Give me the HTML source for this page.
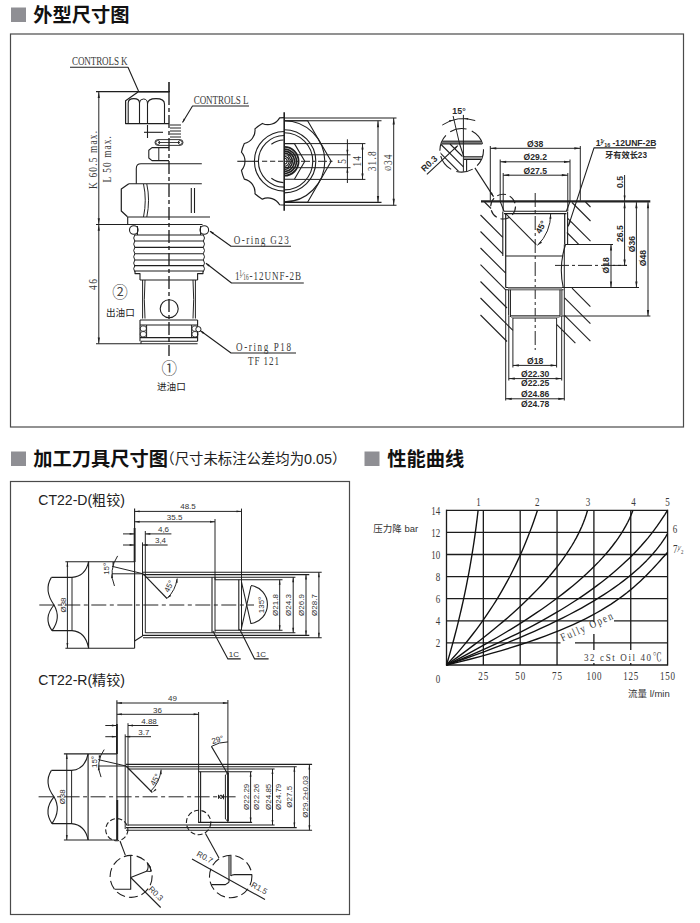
<!DOCTYPE html>
<html><head><meta charset="utf-8"><title>外型尺寸图</title>
<style>
html,body{margin:0;padding:0;background:#fff;}
body{width:700px;height:923px;overflow:hidden;position:relative;font-family:"Liberation Sans","Noto Sans CJK SC",sans-serif;}
svg{position:absolute;left:0;top:0;display:block}
</style></head><body>
<svg width="700" height="923" viewBox="0 0 700 923">
<rect x="10.5" y="34" width="673" height="393" fill="none" stroke="#4a4a4a" stroke-width="1.2"/>
<rect x="10.5" y="481.5" width="339" height="433" fill="none" stroke="#4a4a4a" stroke-width="1.2"/>
<rect x="11" y="7.5" width="15" height="14.5" fill="#8f8f94"/>
<rect x="11" y="451.5" width="15" height="14.5" fill="#8f8f94"/>
<rect x="364.5" y="451.5" width="15" height="14.5" fill="#8f8f94"/>
<text transform="translate(33.30,21.60)" text-anchor="start" style='font-family:"Liberation Sans", "Noto Sans CJK SC", sans-serif;font-size:19.25px;font-weight:bold;fill:#111'>外型尺寸图</text>
<text transform="translate(33.30,465.60)" text-anchor="start" style='font-family:"Liberation Sans", "Noto Sans CJK SC", sans-serif;font-size:19.25px;font-weight:bold;fill:#111'>加工刀具尺寸图</text>
<text transform="translate(387.30,465.60)" text-anchor="start" style='font-family:"Liberation Sans", "Noto Sans CJK SC", sans-serif;font-size:19.25px;font-weight:bold;fill:#111'>性能曲线</text>
<text transform="translate(160.30,464.20) scale(0.985,1)" text-anchor="start" style='font-family:"Liberation Sans", "Noto Sans CJK SC", sans-serif;font-size:14.6px;font-weight:normal;fill:#222'>（尺寸未标注公差均为0.05）</text>
<text transform="translate(38.30,505.00) scale(0.99,1)" text-anchor="start" style='font-family:"Liberation Sans", "Noto Sans CJK SC", sans-serif;font-size:14.2px;font-weight:normal;fill:#222'>CT22-D(粗铰)</text>
<text transform="translate(38.30,684.80) scale(0.99,1)" text-anchor="start" style='font-family:"Liberation Sans", "Noto Sans CJK SC", sans-serif;font-size:14.2px;font-weight:normal;fill:#222'>CT22-R(精铰)</text>
<line x1="169.00" y1="82.00" x2="169.00" y2="92.00" stroke="#1f1f1f" stroke-width="1.59"/>
<line x1="169.00" y1="92.00" x2="169.00" y2="356.00" stroke="#1f1f1f" stroke-width="1.34" stroke-dasharray="13 3 4 3"/>
<line x1="96.00" y1="91.60" x2="170.00" y2="91.60" stroke="#1f1f1f" stroke-width="1.10"/>
<line x1="98.80" y1="92.00" x2="98.80" y2="343.50" stroke="#1f1f1f" stroke-width="0.98"/>
<path d="M98.80,92.00 L99.90,98.00 L97.70,98.00 Z" fill="#1f1f1f"/>
<path d="M98.80,224.20 L97.70,218.20 L99.90,218.20 Z" fill="#1f1f1f"/>
<path d="M98.80,224.80 L99.90,230.80 L97.70,230.80 Z" fill="#1f1f1f"/>
<path d="M98.80,343.60 L97.70,337.60 L99.90,337.60 Z" fill="#1f1f1f"/>
<line x1="96.00" y1="224.50" x2="202.50" y2="224.50" stroke="#1f1f1f" stroke-width="1.10"/>
<line x1="96.00" y1="343.80" x2="141.00" y2="343.80" stroke="#1f1f1f" stroke-width="1.10"/>
<text transform="translate(96.70,160.00) rotate(-90) scale(0.72,1)" text-anchor="middle" textLength="80.56" lengthAdjust="spacing" style='font-family:"Liberation Serif", "Noto Serif CJK SC", serif;font-size:13.0px;font-weight:normal;fill:#3a3a3a'>K 60.5 max.</text>
<text transform="translate(111.00,159.30) rotate(-90) scale(0.72,1)" text-anchor="middle" textLength="64.58" lengthAdjust="spacing" style='font-family:"Liberation Serif", "Noto Serif CJK SC", serif;font-size:13.0px;font-weight:normal;fill:#3a3a3a'>L 50 max.</text>
<text transform="translate(96.80,284.50) rotate(-90) scale(0.72,1)" text-anchor="middle" textLength="15.28" lengthAdjust="spacing" style='font-family:"Liberation Serif", "Noto Serif CJK SC", serif;font-size:13.0px;font-weight:normal;fill:#3a3a3a'>46</text>
<text transform="translate(72.00,65.00) scale(0.72,1)" text-anchor="start" textLength="77.08" lengthAdjust="spacing" style='font-family:"Liberation Serif", "Noto Serif CJK SC", serif;font-size:12.6px;font-weight:normal;fill:#3a3a3a'>CONTROLS K</text>
<path d="M70.00,67.20 L128.00,67.20 L138.50,91.00" stroke="#1f1f1f" stroke-width="1.10" fill="none" stroke-linejoin="round"/>
<text transform="translate(193.70,103.60) scale(0.72,1)" text-anchor="start" textLength="76.11" lengthAdjust="spacing" style='font-family:"Liberation Serif", "Noto Serif CJK SC", serif;font-size:12.6px;font-weight:normal;fill:#3a3a3a'>CONTROLS L</text>
<path d="M249.00,106.00 L192.50,106.00 L182.50,122.50" stroke="#1f1f1f" stroke-width="1.10" fill="none" stroke-linejoin="round"/>
<path d="M182.50,122.50 L183.72,118.59 L185.28,119.49 Z" fill="#1f1f1f"/>
<path d="M169.00,92.00 L138.00,92.00 L125.60,100.80 L125.60,123.60 L169.00,123.60" stroke="#1f1f1f" stroke-width="1.22" fill="none" stroke-linejoin="round"/>
<path d="M128.2,123.6 V103 Q128.2,98.6 133.8,98.6 Q139.5,98.6 139.5,103 V123.6" stroke="#1f1f1f" stroke-width="1.10" fill="none" stroke-linejoin="round"/>
<path d="M147.5,123.6 V104 Q147.5,98.6 156,98.6 Q164.5,98.6 164.5,104 V123.6" stroke="#1f1f1f" stroke-width="1.10" fill="none" stroke-linejoin="round"/>
<path d="M139.5,103 Q139.5,99 143.5,99 Q147.5,99 147.5,104" stroke="#1f1f1f" stroke-width="0.98" fill="none" stroke-linejoin="round"/>
<line x1="170.00" y1="125.00" x2="181.00" y2="125.00" stroke="#1f1f1f" stroke-width="0.98"/>
<line x1="170.00" y1="128.00" x2="181.00" y2="128.00" stroke="#1f1f1f" stroke-width="0.98"/>
<line x1="170.00" y1="131.00" x2="181.00" y2="131.00" stroke="#1f1f1f" stroke-width="0.98"/>
<line x1="170.00" y1="134.00" x2="181.00" y2="134.00" stroke="#1f1f1f" stroke-width="0.98"/>
<line x1="170.00" y1="137.00" x2="181.00" y2="137.00" stroke="#1f1f1f" stroke-width="0.98"/>
<line x1="147.50" y1="125.00" x2="147.50" y2="138.00" stroke="#1f1f1f" stroke-width="1.10"/>
<line x1="144.00" y1="132.30" x2="163.00" y2="132.30" stroke="#1f1f1f" stroke-width="1.10"/>
<rect x="155" y="139.6" width="28" height="5.8" rx="2.9" fill="none" stroke="#1f1f1f" stroke-width="0.9"/>
<line x1="158.00" y1="142.50" x2="180.00" y2="142.50" stroke="#1f1f1f" stroke-width="0.85"/>
<circle cx="157.80" cy="142.50" r="2.00" stroke="#1f1f1f" stroke-width="0.85" fill="none"/>
<circle cx="180.20" cy="142.50" r="2.00" stroke="#1f1f1f" stroke-width="0.85" fill="none"/>
<path d="M169.00,147.60 L152.00,147.60 L148.80,150.20 L148.80,158.00 L152.00,160.60 L169.00,160.60" stroke="#1f1f1f" stroke-width="1.10" fill="none" stroke-linejoin="round"/>
<line x1="158.80" y1="148.00" x2="158.80" y2="160.40" stroke="#1f1f1f" stroke-width="0.98"/>
<path d="M201.8,163.8 H141 Q136.3,163.8 136.3,168.5 V183.8" stroke="#1f1f1f" stroke-width="1.10" fill="none" stroke-linejoin="round"/>
<line x1="128.80" y1="183.80" x2="201.80" y2="183.80" stroke="#1f1f1f" stroke-width="1.10"/>
<path d="M128.80,183.80 L121.30,189.00 L121.30,211.00 L127.50,216.80" stroke="#1f1f1f" stroke-width="1.22" fill="none" stroke-linejoin="round"/>
<path d="M143.5,184 Q147,200 143.5,217" stroke="#1f1f1f" stroke-width="0.98" fill="none" stroke-linejoin="round"/>
<path d="M146.8,184 Q150.3,200 146.8,217" stroke="#1f1f1f" stroke-width="0.98" fill="none" stroke-linejoin="round"/>
<line x1="191.30" y1="188.00" x2="191.30" y2="213.00" stroke="#1f1f1f" stroke-width="1.10"/>
<line x1="194.50" y1="188.00" x2="194.50" y2="213.00" stroke="#1f1f1f" stroke-width="1.10"/>
<line x1="127.50" y1="217.00" x2="210.00" y2="217.00" stroke="#1f1f1f" stroke-width="1.10"/>
<line x1="127.70" y1="217.00" x2="127.70" y2="224.50" stroke="#1f1f1f" stroke-width="1.10"/>
<circle cx="133.80" cy="230.00" r="4.30" stroke="#1f1f1f" stroke-width="1.10" fill="none"/>
<circle cx="204.30" cy="230.00" r="4.30" stroke="#1f1f1f" stroke-width="1.10" fill="none"/>
<line x1="134.50" y1="235.00" x2="203.60" y2="235.00" stroke="#1f1f1f" stroke-width="1.10"/>
<line x1="134.50" y1="241.00" x2="203.60" y2="241.00" stroke="#1f1f1f" stroke-width="1.10"/>
<line x1="134.50" y1="247.40" x2="203.60" y2="247.40" stroke="#1f1f1f" stroke-width="1.10"/>
<line x1="134.50" y1="253.70" x2="203.60" y2="253.70" stroke="#1f1f1f" stroke-width="1.10"/>
<line x1="134.50" y1="260.00" x2="203.60" y2="260.00" stroke="#1f1f1f" stroke-width="1.10"/>
<line x1="134.50" y1="265.60" x2="203.60" y2="265.60" stroke="#1f1f1f" stroke-width="1.10"/>
<line x1="134.50" y1="271.00" x2="203.60" y2="271.00" stroke="#1f1f1f" stroke-width="1.10"/>
<path d="M134.8,235 q-2.2,3.00 0,6.00" stroke="#1f1f1f" stroke-width="0.98" fill="none" stroke-linejoin="round"/>
<path d="M203.4,235 q2.2,3.00 0,6.00" stroke="#1f1f1f" stroke-width="0.98" fill="none" stroke-linejoin="round"/>
<path d="M134.8,241 q-2.2,3.10 0,6.20" stroke="#1f1f1f" stroke-width="0.98" fill="none" stroke-linejoin="round"/>
<path d="M203.4,241 q2.2,3.10 0,6.20" stroke="#1f1f1f" stroke-width="0.98" fill="none" stroke-linejoin="round"/>
<path d="M134.8,247.4 q-2.2,3.10 0,6.20" stroke="#1f1f1f" stroke-width="0.98" fill="none" stroke-linejoin="round"/>
<path d="M203.4,247.4 q2.2,3.10 0,6.20" stroke="#1f1f1f" stroke-width="0.98" fill="none" stroke-linejoin="round"/>
<path d="M134.8,253.7 q-2.2,3.10 0,6.20" stroke="#1f1f1f" stroke-width="0.98" fill="none" stroke-linejoin="round"/>
<path d="M203.4,253.7 q2.2,3.10 0,6.20" stroke="#1f1f1f" stroke-width="0.98" fill="none" stroke-linejoin="round"/>
<path d="M134.8,260 q-2.2,3.10 0,6.20" stroke="#1f1f1f" stroke-width="0.98" fill="none" stroke-linejoin="round"/>
<path d="M203.4,260 q2.2,3.10 0,6.20" stroke="#1f1f1f" stroke-width="0.98" fill="none" stroke-linejoin="round"/>
<path d="M134.8,265.6 q-2.2,3.10 0,6.20" stroke="#1f1f1f" stroke-width="0.98" fill="none" stroke-linejoin="round"/>
<path d="M203.4,265.6 q2.2,3.10 0,6.20" stroke="#1f1f1f" stroke-width="0.98" fill="none" stroke-linejoin="round"/>
<line x1="137.50" y1="226.00" x2="137.50" y2="235.00" stroke="#1f1f1f" stroke-width="0.98"/>
<line x1="200.50" y1="226.00" x2="200.50" y2="235.00" stroke="#1f1f1f" stroke-width="0.98"/>
<path d="M135.00,271.00 L135.00,273.60 L140.00,273.60 L140.00,280.00" stroke="#1f1f1f" stroke-width="1.10" fill="none" stroke-linejoin="round"/>
<path d="M203.00,271.00 L203.00,273.60 L197.60,273.60 L197.60,280.00" stroke="#1f1f1f" stroke-width="1.10" fill="none" stroke-linejoin="round"/>
<line x1="140.00" y1="280.00" x2="197.60" y2="280.00" stroke="#1f1f1f" stroke-width="1.10"/>
<path d="M142.6,280 V318.5" stroke="#1f1f1f" stroke-width="0.98" fill="none" stroke-linejoin="round"/>
<path d="M145,280 Q143.6,300 145,318.5" stroke="#1f1f1f" stroke-width="0.98" fill="none" stroke-linejoin="round"/>
<path d="M195.4,280 V318.5" stroke="#1f1f1f" stroke-width="0.98" fill="none" stroke-linejoin="round"/>
<path d="M193,280 Q194.4,300 193,318.5" stroke="#1f1f1f" stroke-width="0.98" fill="none" stroke-linejoin="round"/>
<circle cx="169.20" cy="308.70" r="9.00" stroke="#1f1f1f" stroke-width="1.10" fill="none"/>
<line x1="140.00" y1="320.00" x2="197.60" y2="320.00" stroke="#1f1f1f" stroke-width="1.22"/>
<line x1="140.00" y1="325.00" x2="197.60" y2="325.00" stroke="#1f1f1f" stroke-width="1.10"/>
<line x1="140.00" y1="320.00" x2="140.00" y2="341.20" stroke="#1f1f1f" stroke-width="1.10"/>
<line x1="197.60" y1="320.00" x2="197.60" y2="341.20" stroke="#1f1f1f" stroke-width="1.10"/>
<line x1="146.60" y1="325.00" x2="146.60" y2="337.50" stroke="#1f1f1f" stroke-width="0.98"/>
<line x1="191.60" y1="325.00" x2="191.60" y2="337.50" stroke="#1f1f1f" stroke-width="0.98"/>
<rect x="140.3" y="326" width="6" height="5.2" rx="2.3" fill="none" stroke="#1f1f1f" stroke-width="0.8"/>
<rect x="140.3" y="331.6" width="6" height="5.2" rx="2.3" fill="none" stroke="#1f1f1f" stroke-width="0.8"/>
<rect x="192" y="326" width="6" height="5.2" rx="2.3" fill="none" stroke="#1f1f1f" stroke-width="0.8"/>
<rect x="192" y="331.6" width="6" height="5.2" rx="2.3" fill="none" stroke="#1f1f1f" stroke-width="0.8"/>
<circle cx="198.40" cy="329.20" r="2.60" stroke="#1f1f1f" stroke-width="0.98" fill="#fff"/>
<line x1="140.00" y1="337.60" x2="197.60" y2="337.60" stroke="#1f1f1f" stroke-width="1.10"/>
<line x1="141.00" y1="341.20" x2="197.60" y2="341.20" stroke="#1f1f1f" stroke-width="1.10"/>
<line x1="141.00" y1="343.80" x2="197.60" y2="343.80" stroke="#1f1f1f" stroke-width="1.10"/>
<line x1="141.00" y1="341.20" x2="141.00" y2="343.80" stroke="#1f1f1f" stroke-width="1.10"/>
<path d="M210.00,231.20 L231.00,246.30 L291.00,246.30" stroke="#1f1f1f" stroke-width="1.10" fill="none" stroke-linejoin="round"/>
<path d="M209.50,230.80 L213.76,232.56 L212.61,234.20 Z" fill="#1f1f1f"/>
<text transform="translate(233.80,243.60) scale(0.72,1)" text-anchor="start" textLength="76.39" lengthAdjust="spacing" style='font-family:"Liberation Serif", "Noto Serif CJK SC", serif;font-size:12.6px;font-weight:normal;fill:#3a3a3a'>O-ring G23</text>
<path d="M206.00,263.30 L231.50,283.00 L303.80,283.00" stroke="#1f1f1f" stroke-width="1.10" fill="none" stroke-linejoin="round"/>
<path d="M205.50,263.00 L209.70,264.91 L208.49,266.51 Z" fill="#1f1f1f"/>
<text transform="translate(235.00,279.60) scale(0.72,1)" text-anchor="start" style='font-family:"Liberation Serif", "Noto Serif CJK SC", serif;font-size:12.6px;font-weight:normal;fill:#3a3a3a'>1</text>
<text transform="translate(239.30,276.00) scale(0.72,1)" text-anchor="start" style='font-family:"Liberation Serif", "Noto Serif CJK SC", serif;font-size:7.5px;font-weight:normal;fill:#3a3a3a'>1</text>
<text transform="translate(241.40,277.80)" text-anchor="start" style='font-family:"Liberation Serif", "Noto Serif CJK SC", serif;font-size:9px;font-weight:normal;fill:#3a3a3a'>⁄</text>
<text transform="translate(243.20,280.20) scale(0.72,1)" text-anchor="start" style='font-family:"Liberation Serif", "Noto Serif CJK SC", serif;font-size:7.5px;font-weight:normal;fill:#3a3a3a'>16</text>
<text transform="translate(249.50,279.60) scale(0.72,1)" text-anchor="start" textLength="71.53" lengthAdjust="spacing" style='font-family:"Liberation Serif", "Noto Serif CJK SC", serif;font-size:12.6px;font-weight:normal;fill:#3a3a3a'>-12UNF-2B</text>
<path d="M200.50,330.80 L231.00,353.00 L296.00,353.00" stroke="#1f1f1f" stroke-width="1.10" fill="none" stroke-linejoin="round"/>
<path d="M200.00,330.50 L204.23,332.34 L203.05,333.95 Z" fill="#1f1f1f"/>
<text transform="translate(236.00,350.80) scale(0.72,1)" text-anchor="start" textLength="76.39" lengthAdjust="spacing" style='font-family:"Liberation Serif", "Noto Serif CJK SC", serif;font-size:12.6px;font-weight:normal;fill:#3a3a3a'>O-ring P18</text>
<text transform="translate(248.00,365.00) scale(0.72,1)" text-anchor="start" textLength="43.06" lengthAdjust="spacing" style='font-family:"Liberation Serif", "Noto Serif CJK SC", serif;font-size:12.6px;font-weight:normal;fill:#3a3a3a'>TF 121</text>
<text transform="translate(120.00,298.30)" text-anchor="middle" style='font-family:"Liberation Sans", "Noto Sans CJK SC", sans-serif;font-size:15.5px;font-weight:normal;fill:#444'>②</text>
<text transform="translate(106.00,316.00)" text-anchor="start" style='font-family:"Liberation Sans", "Noto Sans CJK SC", sans-serif;font-size:9.6px;font-weight:normal;fill:#222'>出油口</text>
<text transform="translate(169.20,374.00)" text-anchor="middle" style='font-family:"Liberation Sans", "Noto Sans CJK SC", sans-serif;font-size:15.5px;font-weight:normal;fill:#444'>①</text>
<text transform="translate(157.00,390.20)" text-anchor="start" style='font-family:"Liberation Sans", "Noto Sans CJK SC", sans-serif;font-size:9.6px;font-weight:normal;fill:#222'>进油口</text>
<line x1="284.20" y1="112.30" x2="284.20" y2="210.70" stroke="#1f1f1f" stroke-width="1.59"/>
<line x1="237.30" y1="161.30" x2="258.50" y2="161.30" stroke="#1f1f1f" stroke-width="1.10"/>
<line x1="262.00" y1="161.30" x2="284.00" y2="161.30" stroke="#1f1f1f" stroke-width="1.10" stroke-dasharray="5.2 2.8"/>
<line x1="284.00" y1="161.30" x2="333.00" y2="161.30" stroke="#1f1f1f" stroke-width="0.98" stroke-dasharray="9 2.5 3 2.5"/>
<path d="M284.20,117.60 A43.7,43.7 0 0 0 279.63,117.84 A13.5,13.5 0 0 1 262.35,123.45 A43.7,43.7 0 0 0 254.96,128.82 A13.5,13.5 0 0 1 244.28,143.53 A43.7,43.7 0 0 0 241.45,152.21 A13.5,13.5 0 0 1 241.45,170.39 A43.7,43.7 0 0 0 244.28,179.07 A13.5,13.5 0 0 1 254.96,193.78 A43.7,43.7 0 0 0 262.35,199.15 A13.5,13.5 0 0 1 279.63,204.76 A43.7,43.7 0 0 0 284.20,205.00" stroke="#1f1f1f" stroke-width="1.16" fill="none" stroke-linejoin="round"/>
<path d="M284.20,191.10 A29.80,29.80 0 0 1 284.20,131.50" stroke="#1f1f1f" stroke-width="1.10" fill="none" stroke-linejoin="round"/>
<path d="M284.20,187.10 A25.80,25.80 0 0 1 284.20,135.50" stroke="#1f1f1f" stroke-width="1.10" fill="none" stroke-linejoin="round"/>
<path d="M271.38,144.29 A21.30,21.30 0 0 1 283.46,140.01" stroke="#1f1f1f" stroke-width="1.10" fill="none" stroke-linejoin="round"/>
<path d="M283.46,182.59 A21.30,21.30 0 0 1 271.38,178.31" stroke="#1f1f1f" stroke-width="1.10" fill="none" stroke-linejoin="round"/>
<line x1="284.20" y1="118.00" x2="396.50" y2="118.00" stroke="#1f1f1f" stroke-width="1.10"/>
<line x1="284.20" y1="205.30" x2="396.50" y2="205.30" stroke="#1f1f1f" stroke-width="1.10"/>
<line x1="284.20" y1="120.80" x2="381.50" y2="120.80" stroke="#1f1f1f" stroke-width="1.10"/>
<line x1="284.20" y1="202.40" x2="381.50" y2="202.40" stroke="#1f1f1f" stroke-width="1.10"/>
<path d="M284.20,120.80 L307.60,120.80 L331.20,161.30 L307.60,202.20 L284.20,202.20" stroke="#1f1f1f" stroke-width="1.10" fill="none" stroke-linejoin="round"/>
<path d="M284.20,120.70 A40.60,40.60 0 0 1 284.20,201.90" stroke="#1f1f1f" stroke-width="1.10" fill="none" stroke-linejoin="round"/>
<path d="M284.20,129.70 A31.60,31.60 0 0 1 284.20,192.90" stroke="#1f1f1f" stroke-width="1.10" fill="none" stroke-linejoin="round"/>
<path d="M284.20,132.70 A28.60,28.60 0 0 1 284.20,189.90" stroke="#1f1f1f" stroke-width="1.10" fill="none" stroke-linejoin="round"/>
<path d="M284.20,143.60 L294.40,143.60 L304.80,161.30 L294.40,179.20 L284.20,179.20" stroke="#1f1f1f" stroke-width="1.10" fill="none" stroke-linejoin="round"/>
<line x1="294.40" y1="143.60" x2="365.40" y2="143.60" stroke="#1f1f1f" stroke-width="0.98"/>
<line x1="294.40" y1="179.40" x2="365.40" y2="179.40" stroke="#1f1f1f" stroke-width="0.98"/>
<path d="M284.20,146.90 A14.40,14.40 0 0 1 284.20,175.70" stroke="#1f1f1f" stroke-width="1.83" fill="none" stroke-linejoin="round"/>
<path d="M284.20,149.10 A12.20,12.20 0 0 1 284.20,173.50" stroke="#1f1f1f" stroke-width="1.59" fill="none" stroke-linejoin="round"/>
<path d="M284.20,151.10 A10.20,10.20 0 0 1 284.20,171.50" stroke="#1f1f1f" stroke-width="1.59" fill="none" stroke-linejoin="round"/>
<path d="M284.20,153.10 A8.20,8.20 0 0 1 284.20,169.50" stroke="#1f1f1f" stroke-width="1.46" fill="none" stroke-linejoin="round"/>
<path d="M284.20,155.00 L287.80,155.00 L291.50,161.30 L287.80,167.60 L284.20,167.60" stroke="#1f1f1f" stroke-width="1.10" fill="none" stroke-linejoin="round"/>
<path d="M284.20,156.30 A5.00,5.00 0 0 1 284.20,166.30" stroke="#1f1f1f" stroke-width="1.22" fill="none" stroke-linejoin="round"/>
<path d="M284.20,158.30 A3.00,3.00 0 0 1 284.20,164.30" stroke="#1f1f1f" stroke-width="1.10" fill="none" stroke-linejoin="round"/>
<line x1="288.00" y1="154.80" x2="350.50" y2="154.80" stroke="#1f1f1f" stroke-width="0.98"/>
<line x1="288.00" y1="167.70" x2="350.50" y2="167.70" stroke="#1f1f1f" stroke-width="0.98"/>
<line x1="347.40" y1="139.30" x2="347.40" y2="183.00" stroke="#1f1f1f" stroke-width="0.98"/>
<path d="M347.40,154.80 L346.40,149.80 L348.40,149.80 Z" fill="#1f1f1f"/>
<path d="M347.40,167.70 L348.40,172.70 L346.40,172.70 Z" fill="#1f1f1f"/>
<line x1="362.50" y1="143.60" x2="362.50" y2="179.40" stroke="#1f1f1f" stroke-width="0.98"/>
<path d="M362.50,143.60 L363.60,149.60 L361.40,149.60 Z" fill="#1f1f1f"/>
<path d="M362.50,179.40 L361.40,173.40 L363.60,173.40 Z" fill="#1f1f1f"/>
<line x1="378.00" y1="120.80" x2="378.00" y2="202.40" stroke="#1f1f1f" stroke-width="0.98"/>
<path d="M378.00,120.80 L379.10,127.30 L376.90,127.30 Z" fill="#1f1f1f"/>
<path d="M378.00,202.40 L376.90,195.90 L379.10,195.90 Z" fill="#1f1f1f"/>
<line x1="393.70" y1="118.00" x2="393.70" y2="205.30" stroke="#1f1f1f" stroke-width="0.98"/>
<path d="M393.70,118.00 L394.80,124.50 L392.60,124.50 Z" fill="#1f1f1f"/>
<path d="M393.70,205.30 L392.60,198.80 L394.80,198.80 Z" fill="#1f1f1f"/>
<text transform="translate(346.00,161.30) rotate(-90) scale(0.72,1)" text-anchor="middle" style='font-family:"Liberation Serif", "Noto Serif CJK SC", serif;font-size:13px;font-weight:normal;fill:#3a3a3a'>5</text>
<text transform="translate(361.00,161.30) rotate(-90) scale(0.72,1)" text-anchor="middle" textLength="14.58" lengthAdjust="spacing" style='font-family:"Liberation Serif", "Noto Serif CJK SC", serif;font-size:13px;font-weight:normal;fill:#3a3a3a'>14</text>
<text transform="translate(376.30,161.30) rotate(-90) scale(0.72,1)" text-anchor="middle" textLength="27.78" lengthAdjust="spacing" style='font-family:"Liberation Serif", "Noto Serif CJK SC", serif;font-size:13px;font-weight:normal;fill:#3a3a3a'>31.8</text>
<text transform="translate(391.60,159.80) rotate(-90) scale(0.72,1)" text-anchor="middle" textLength="14.58" lengthAdjust="spacing" style='font-family:"Liberation Serif", "Noto Serif CJK SC", serif;font-size:13px;font-weight:normal;fill:#3a3a3a'>34</text>
<text transform="translate(391.00,168.30) rotate(-90) scale(0.9,1)" text-anchor="middle" style='font-family:"Liberation Serif", "Noto Serif CJK SC", serif;font-size:7.5px;font-weight:normal;fill:#3a3a3a'>Ø</text>
<line x1="481.00" y1="201.40" x2="650.30" y2="201.40" stroke="#222" stroke-width="2.07"/>
<line x1="535.20" y1="193.00" x2="535.20" y2="350.00" stroke="#1f1f1f" stroke-width="0.98" stroke-dasharray="14 3 3 3"/>
<line x1="490.30" y1="148.30" x2="580.30" y2="148.30" stroke="#1f1f1f" stroke-width="0.98"/>
<path d="M490.30,148.30 L496.30,147.20 L496.30,149.40 Z" fill="#1f1f1f"/>
<path d="M580.30,148.30 L574.30,149.40 L574.30,147.20 Z" fill="#1f1f1f"/>
<line x1="490.30" y1="146.00" x2="490.30" y2="200.60" stroke="#1f1f1f" stroke-width="0.98"/>
<line x1="580.30" y1="146.00" x2="580.30" y2="200.60" stroke="#1f1f1f" stroke-width="0.98"/>
<line x1="500.20" y1="161.80" x2="570.00" y2="161.80" stroke="#1f1f1f" stroke-width="0.98"/>
<path d="M500.20,161.80 L506.20,160.70 L506.20,162.90 Z" fill="#1f1f1f"/>
<path d="M570.00,161.80 L564.00,162.90 L564.00,160.70 Z" fill="#1f1f1f"/>
<line x1="500.20" y1="159.50" x2="500.20" y2="201.00" stroke="#1f1f1f" stroke-width="0.98"/>
<line x1="570.00" y1="159.50" x2="570.00" y2="201.00" stroke="#1f1f1f" stroke-width="0.98"/>
<line x1="503.20" y1="175.20" x2="567.80" y2="175.20" stroke="#1f1f1f" stroke-width="0.98"/>
<path d="M503.20,175.20 L509.20,174.10 L509.20,176.30 Z" fill="#1f1f1f"/>
<path d="M567.80,175.20 L561.80,176.30 L561.80,174.10 Z" fill="#1f1f1f"/>
<line x1="503.20" y1="173.00" x2="503.20" y2="211.00" stroke="#1f1f1f" stroke-width="0.98"/>
<line x1="567.80" y1="173.00" x2="567.80" y2="211.00" stroke="#1f1f1f" stroke-width="0.98"/>
<text transform="translate(535.20,146.60)" text-anchor="middle" style='font-family:"Liberation Sans", "Noto Sans CJK SC", sans-serif;font-size:8.6px;font-weight:bold;fill:#2a2a2a'>Ø38</text>
<text transform="translate(535.20,160.00)" text-anchor="middle" style='font-family:"Liberation Sans", "Noto Sans CJK SC", sans-serif;font-size:8.6px;font-weight:bold;fill:#2a2a2a'>Ø29.2</text>
<text transform="translate(535.20,173.50)" text-anchor="middle" style='font-family:"Liberation Sans", "Noto Sans CJK SC", sans-serif;font-size:8.6px;font-weight:bold;fill:#2a2a2a'>Ø27.5</text>
<path d="M500.20,201.40 L504.00,211.20 L566.40,211.20 L570.00,201.40" stroke="#1f1f1f" stroke-width="1.10" fill="none" stroke-linejoin="round"/>
<line x1="504.00" y1="213.60" x2="566.40" y2="213.60" stroke="#1f1f1f" stroke-width="1.10"/>
<line x1="502.80" y1="211.50" x2="502.80" y2="256.00" stroke="#1f1f1f" stroke-width="1.10"/>
<line x1="505.70" y1="213.60" x2="505.70" y2="287.50" stroke="#1f1f1f" stroke-width="1.22"/>
<line x1="567.60" y1="211.50" x2="567.60" y2="244.50" stroke="#1f1f1f" stroke-width="1.10"/>
<line x1="564.70" y1="213.60" x2="564.70" y2="244.50" stroke="#1f1f1f" stroke-width="1.22"/>
<line x1="505.70" y1="256.00" x2="563.20" y2="256.00" stroke="#1f1f1f" stroke-width="1.10"/>
<line x1="505.70" y1="213.60" x2="536.30" y2="244.60" stroke="#1f1f1f" stroke-width="1.10"/>
<path d="M550.70,213.60 A45.00,45.00 0 0 1 537.52,245.42" stroke="#1f1f1f" stroke-width="0.98" fill="none" stroke-linejoin="round"/>
<path d="M550.70,213.80 L551.44,218.85 L549.44,218.74 Z" fill="#1f1f1f"/>
<path d="M537.60,245.30 L540.65,241.21 L541.98,242.70 Z" fill="#1f1f1f"/>
<text transform="translate(543.50,228.50) rotate(-62)" text-anchor="middle" style='font-family:"Liberation Sans", "Noto Sans CJK SC", sans-serif;font-size:8.6px;font-weight:bold;fill:#2a2a2a'>45°</text>
<path d="M613,244.5 H565.5 Q558.5,266 563.2,287.5 H639" stroke="#1f1f1f" stroke-width="1.10" fill="none" stroke-linejoin="round"/>
<line x1="555.00" y1="265.40" x2="627.00" y2="265.40" stroke="#1f1f1f" stroke-width="0.98" stroke-dasharray="14 3 3 3"/>
<line x1="505.70" y1="287.50" x2="563.50" y2="287.50" stroke="#1f1f1f" stroke-width="1.22"/>
<line x1="505.70" y1="289.70" x2="563.50" y2="289.70" stroke="#1f1f1f" stroke-width="1.10"/>
<rect x="508" y="287.5" width="54" height="2.2" fill="#999"/>
<line x1="508.60" y1="289.70" x2="508.60" y2="315.70" stroke="#1f1f1f" stroke-width="0.98"/>
<line x1="510.40" y1="289.70" x2="510.40" y2="317.00" stroke="#1f1f1f" stroke-width="1.10"/>
<line x1="561.90" y1="289.70" x2="561.90" y2="315.70" stroke="#1f1f1f" stroke-width="0.98"/>
<line x1="560.00" y1="289.70" x2="560.00" y2="317.00" stroke="#1f1f1f" stroke-width="1.10"/>
<line x1="510.40" y1="315.80" x2="560.00" y2="315.80" stroke="#1f1f1f" stroke-width="1.22"/>
<line x1="512.90" y1="318.00" x2="556.60" y2="318.00" stroke="#1f1f1f" stroke-width="1.10"/>
<rect x="511" y="315.8" width="48.5" height="2.2" fill="#999"/>
<line x1="512.90" y1="318.00" x2="512.90" y2="367.50" stroke="#1f1f1f" stroke-width="0.98"/>
<line x1="556.60" y1="318.00" x2="556.60" y2="367.50" stroke="#1f1f1f" stroke-width="0.98"/>
<line x1="505.70" y1="289.00" x2="505.70" y2="400.50" stroke="#1f1f1f" stroke-width="0.98"/>
<line x1="564.30" y1="244.50" x2="564.30" y2="400.50" stroke="#1f1f1f" stroke-width="0.98"/>
<line x1="508.80" y1="316.00" x2="508.80" y2="380.50" stroke="#1f1f1f" stroke-width="0.98"/>
<line x1="561.70" y1="316.00" x2="561.70" y2="380.50" stroke="#1f1f1f" stroke-width="0.98"/>
<line x1="512.90" y1="365.40" x2="556.60" y2="365.40" stroke="#1f1f1f" stroke-width="0.98"/>
<path d="M512.90,365.40 L518.90,364.30 L518.90,366.50 Z" fill="#1f1f1f"/>
<path d="M556.60,365.40 L550.60,366.50 L550.60,364.30 Z" fill="#1f1f1f"/>
<text transform="translate(535.20,363.80)" text-anchor="middle" style='font-family:"Liberation Sans", "Noto Sans CJK SC", sans-serif;font-size:8.6px;font-weight:bold;fill:#2a2a2a'>Ø18</text>
<line x1="508.80" y1="378.60" x2="561.70" y2="378.60" stroke="#1f1f1f" stroke-width="0.98"/>
<path d="M508.80,378.60 L514.80,377.50 L514.80,379.70 Z" fill="#1f1f1f"/>
<path d="M561.70,378.60 L555.70,379.70 L555.70,377.50 Z" fill="#1f1f1f"/>
<text transform="translate(535.20,376.80)" text-anchor="middle" style='font-family:"Liberation Sans", "Noto Sans CJK SC", sans-serif;font-size:8.6px;font-weight:bold;fill:#2a2a2a'>Ø22.30</text>
<text transform="translate(535.20,386.40)" text-anchor="middle" style='font-family:"Liberation Sans", "Noto Sans CJK SC", sans-serif;font-size:8.6px;font-weight:bold;fill:#2a2a2a'>Ø22.25</text>
<line x1="505.70" y1="398.80" x2="564.30" y2="398.80" stroke="#1f1f1f" stroke-width="0.98"/>
<path d="M505.70,398.80 L511.70,397.70 L511.70,399.90 Z" fill="#1f1f1f"/>
<path d="M564.30,398.80 L558.30,399.90 L558.30,397.70 Z" fill="#1f1f1f"/>
<text transform="translate(535.20,397.00)" text-anchor="middle" style='font-family:"Liberation Sans", "Noto Sans CJK SC", sans-serif;font-size:8.6px;font-weight:bold;fill:#2a2a2a'>Ø24.86</text>
<text transform="translate(535.20,407.00)" text-anchor="middle" style='font-family:"Liberation Sans", "Noto Sans CJK SC", sans-serif;font-size:8.6px;font-weight:bold;fill:#2a2a2a'>Ø24.78</text>
<line x1="480.50" y1="215.00" x2="502.80" y2="237.30" stroke="#1f1f1f" stroke-width="1.10"/>
<line x1="480.50" y1="231.50" x2="502.80" y2="253.80" stroke="#1f1f1f" stroke-width="1.10"/>
<line x1="480.50" y1="248.00" x2="505.70" y2="273.20" stroke="#1f1f1f" stroke-width="1.10"/>
<line x1="480.50" y1="264.70" x2="505.70" y2="289.90" stroke="#1f1f1f" stroke-width="1.10"/>
<line x1="480.50" y1="281.50" x2="507.00" y2="308.00" stroke="#1f1f1f" stroke-width="1.10"/>
<line x1="480.50" y1="298.00" x2="512.90" y2="330.40" stroke="#1f1f1f" stroke-width="1.10"/>
<line x1="480.50" y1="315.00" x2="507.00" y2="341.50" stroke="#1f1f1f" stroke-width="1.10"/>
<line x1="484.50" y1="202.00" x2="491.00" y2="208.50" stroke="#1f1f1f" stroke-width="1.10"/>
<line x1="572.00" y1="202.50" x2="590.50" y2="221.00" stroke="#1f1f1f" stroke-width="1.10"/>
<line x1="585.50" y1="202.00" x2="590.50" y2="207.00" stroke="#1f1f1f" stroke-width="1.10"/>
<line x1="567.70" y1="218.30" x2="590.50" y2="241.10" stroke="#1f1f1f" stroke-width="1.10"/>
<line x1="566.90" y1="232.50" x2="579.00" y2="244.60" stroke="#1f1f1f" stroke-width="1.10"/>
<line x1="572.00" y1="288.20" x2="590.40" y2="306.60" stroke="#1f1f1f" stroke-width="1.10"/>
<line x1="564.60" y1="297.90" x2="590.40" y2="323.70" stroke="#1f1f1f" stroke-width="1.10"/>
<line x1="564.60" y1="315.40" x2="590.40" y2="341.20" stroke="#1f1f1f" stroke-width="1.10"/>
<line x1="556.80" y1="324.60" x2="575.40" y2="343.20" stroke="#1f1f1f" stroke-width="1.10"/>
<line x1="561.50" y1="316.00" x2="650.40" y2="316.00" stroke="#1f1f1f" stroke-width="0.98"/>
<line x1="624.60" y1="175.00" x2="624.60" y2="201.00" stroke="#1f1f1f" stroke-width="0.98"/>
<path d="M624.60,200.60 L623.60,195.60 L625.60,195.60 Z" fill="#1f1f1f"/>
<line x1="624.60" y1="202.20" x2="624.60" y2="265.40" stroke="#1f1f1f" stroke-width="0.98"/>
<path d="M624.60,202.20 L625.70,208.20 L623.50,208.20 Z" fill="#1f1f1f"/>
<path d="M624.60,265.40 L623.50,259.40 L625.70,259.40 Z" fill="#1f1f1f"/>
<line x1="613.00" y1="265.40" x2="627.00" y2="265.40" stroke="#1f1f1f" stroke-width="0.98"/>
<line x1="611.00" y1="244.50" x2="611.00" y2="287.50" stroke="#1f1f1f" stroke-width="0.98"/>
<path d="M611.00,244.50 L612.10,250.50 L609.90,250.50 Z" fill="#1f1f1f"/>
<path d="M611.00,287.50 L609.90,281.50 L612.10,281.50 Z" fill="#1f1f1f"/>
<line x1="636.40" y1="202.20" x2="636.40" y2="287.50" stroke="#1f1f1f" stroke-width="0.98"/>
<path d="M636.40,202.20 L637.50,208.20 L635.30,208.20 Z" fill="#1f1f1f"/>
<path d="M636.40,287.50 L635.30,281.50 L637.50,281.50 Z" fill="#1f1f1f"/>
<line x1="648.00" y1="202.20" x2="648.00" y2="316.00" stroke="#1f1f1f" stroke-width="0.98"/>
<path d="M648.00,202.20 L649.10,208.20 L646.90,208.20 Z" fill="#1f1f1f"/>
<path d="M648.00,316.00 L646.90,310.00 L649.10,310.00 Z" fill="#1f1f1f"/>
<text transform="translate(622.80,182.00) rotate(-90)" text-anchor="middle" style='font-family:"Liberation Sans", "Noto Sans CJK SC", sans-serif;font-size:8.6px;font-weight:bold;fill:#2a2a2a'>0.5</text>
<text transform="translate(622.80,233.70) rotate(-90)" text-anchor="middle" style='font-family:"Liberation Sans", "Noto Sans CJK SC", sans-serif;font-size:8.6px;font-weight:bold;fill:#2a2a2a'>26.5</text>
<text transform="translate(609.20,265.40) rotate(-90)" text-anchor="middle" style='font-family:"Liberation Sans", "Noto Sans CJK SC", sans-serif;font-size:8.6px;font-weight:bold;fill:#2a2a2a'>Ø18</text>
<text transform="translate(634.60,244.00) rotate(-90)" text-anchor="middle" style='font-family:"Liberation Sans", "Noto Sans CJK SC", sans-serif;font-size:8.6px;font-weight:bold;fill:#2a2a2a'>Ø36</text>
<text transform="translate(646.20,258.00) rotate(-90)" text-anchor="middle" style='font-family:"Liberation Sans", "Noto Sans CJK SC", sans-serif;font-size:8.6px;font-weight:bold;fill:#2a2a2a'>Ø48</text>
<path d="M655.70,147.90 L594.00,147.90 L568.30,226.30" stroke="#1f1f1f" stroke-width="1.10" fill="none" stroke-linejoin="round"/>
<path d="M568.30,226.30 L568.89,221.24 L570.80,221.85 Z" fill="#1f1f1f"/>
<text transform="translate(595.80,145.80)" text-anchor="start" style='font-family:"Liberation Sans", "Noto Sans CJK SC", sans-serif;font-size:8.6px;font-weight:bold;fill:#2a2a2a'>1</text>
<text transform="translate(600.20,143.00)" text-anchor="start" style='font-family:"Liberation Sans", "Noto Sans CJK SC", sans-serif;font-size:5.5px;font-weight:bold;fill:#2a2a2a'>1</text>
<text transform="translate(602.00,144.50)" text-anchor="start" style='font-family:"Liberation Sans", "Noto Sans CJK SC", sans-serif;font-size:7px;font-weight:bold;fill:#2a2a2a'>⁄</text>
<text transform="translate(604.20,146.50)" text-anchor="start" style='font-family:"Liberation Sans", "Noto Sans CJK SC", sans-serif;font-size:5.5px;font-weight:bold;fill:#2a2a2a'>16</text>
<text transform="translate(612.50,145.80)" text-anchor="start" style='font-family:"Liberation Sans", "Noto Sans CJK SC", sans-serif;font-size:8.6px;font-weight:bold;fill:#2a2a2a'>-12UNF-2B</text>
<text transform="translate(626.00,158.40)" text-anchor="middle" style='font-family:"Liberation Sans", "Noto Sans CJK SC", sans-serif;font-size:8.2px;font-weight:bold;fill:#2a2a2a'>牙有效长23</text>
<circle cx="503.10" cy="206.60" r="12.40" stroke="#1f1f1f" stroke-width="1.10" fill="none" stroke-dasharray="9 4"/>
<line x1="474.90" y1="167.90" x2="493.50" y2="196.60" stroke="#1f1f1f" stroke-width="1.10"/>
<path d="M493.80,197.00 L490.24,193.35 L491.92,192.26 Z" fill="#1f1f1f"/>
<circle cx="461.70" cy="150.30" r="21.80" stroke="#1f1f1f" stroke-width="1.10" fill="none" stroke-dasharray="17 5.5"/>
<clipPath id="cpA"><circle cx="461.7" cy="150.3" r="21.4"/></clipPath>
<g clip-path="url(#cpA)">
<rect x="438" y="141.1" width="46" height="2.9" fill="#777"/>
<line x1="438.00" y1="141.10" x2="484.00" y2="141.10" stroke="#1f1f1f" stroke-width="0.98"/>
<line x1="438.00" y1="144.00" x2="484.00" y2="144.00" stroke="#1f1f1f" stroke-width="0.98"/>
<rect x="464" y="156.8" width="20" height="2.6" fill="#bbb"/>
<line x1="464.00" y1="156.80" x2="484.00" y2="156.80" stroke="#1f1f1f" stroke-width="1.10"/>
<line x1="464.00" y1="159.40" x2="484.00" y2="159.40" stroke="#1f1f1f" stroke-width="1.10"/>
<line x1="466.60" y1="159.40" x2="466.60" y2="175.00" stroke="#1f1f1f" stroke-width="1.10"/>
<line x1="431.20" y1="144.00" x2="463.40" y2="176.20" stroke="#1f1f1f" stroke-width="1.10"/>
<line x1="440.60" y1="144.00" x2="463.40" y2="166.80" stroke="#1f1f1f" stroke-width="1.10"/>
<line x1="450.00" y1="144.00" x2="462.50" y2="156.50" stroke="#1f1f1f" stroke-width="1.10"/>
<line x1="459.60" y1="144.00" x2="464.00" y2="157.10" stroke="#1f1f1f" stroke-width="1.10"/>
</g>
<line x1="463.40" y1="114.90" x2="463.40" y2="171.50" stroke="#1f1f1f" stroke-width="0.98"/>
<line x1="453.10" y1="116.00" x2="459.60" y2="144.00" stroke="#1f1f1f" stroke-width="0.98"/>
<path d="M442.26,125.06 A38.30,38.30 0 0 1 475.24,120.57" stroke="#1f1f1f" stroke-width="0.98" fill="none" stroke-linejoin="round"/>
<path d="M453.60,120.00 L449.45,121.96 L449.02,120.22 Z" fill="#1f1f1f"/>
<path d="M463.60,118.80 L468.10,117.90 L468.10,119.70 Z" fill="#1f1f1f"/>
<text transform="translate(459.00,113.60)" text-anchor="middle" style='font-family:"Liberation Sans", "Noto Sans CJK SC", sans-serif;font-size:8.8px;font-weight:bold;fill:#2a2a2a'>15°</text>
<line x1="426.90" y1="174.30" x2="457.70" y2="145.70" stroke="#1f1f1f" stroke-width="1.10"/>
<path d="M457.90,145.50 L455.66,148.96 L454.29,147.50 Z" fill="#1f1f1f"/>
<text transform="translate(431.20,165.80) rotate(-43)" text-anchor="middle" style='font-family:"Liberation Sans", "Noto Sans CJK SC", sans-serif;font-size:8.8px;font-weight:bold;fill:#2a2a2a'>R0.3</text>
<line x1="39.30" y1="605.00" x2="254.00" y2="605.00" stroke="#1f1f1f" stroke-width="0.98" stroke-dasharray="15 3.5 4 3.5"/>
<path d="M51.4,577.4 Q43.5,590 54,605 Q43,618 52,630.6" stroke="#1f1f1f" stroke-width="1.10" fill="none" stroke-linejoin="round"/>
<path d="M54,605 Q61.5,618 52,630.6" stroke="#1f1f1f" stroke-width="1.10" fill="none" stroke-linejoin="round"/>
<path d="M51.4,577.4 H72 Q85.5,576.5 88.6,561.7" stroke="#1f1f1f" stroke-width="1.10" fill="none" stroke-linejoin="round"/>
<path d="M52,630.6 H72 Q85.5,631.5 88.6,648.1" stroke="#1f1f1f" stroke-width="1.10" fill="none" stroke-linejoin="round"/>
<line x1="65.40" y1="561.70" x2="134.60" y2="561.70" stroke="#1f1f1f" stroke-width="1.10"/>
<line x1="65.40" y1="648.30" x2="134.60" y2="648.30" stroke="#1f1f1f" stroke-width="1.10"/>
<line x1="88.60" y1="561.70" x2="88.60" y2="648.30" stroke="#1f1f1f" stroke-width="1.10"/>
<line x1="72.00" y1="577.40" x2="72.00" y2="630.60" stroke="#1f1f1f" stroke-width="0.98"/>
<line x1="67.40" y1="561.70" x2="67.40" y2="648.10" stroke="#1f1f1f" stroke-width="0.98"/>
<path d="M67.40,561.70 L68.30,566.70 L66.50,566.70 Z" fill="#1f1f1f"/>
<path d="M67.40,648.10 L66.50,643.10 L68.30,643.10 Z" fill="#1f1f1f"/>
<text transform="translate(65.60,605.00) rotate(-90)" text-anchor="middle" style='font-family:"Liberation Sans", "Noto Sans CJK SC", sans-serif;font-size:8.0px;font-weight:normal;fill:#333'>Ø38</text>
<line x1="134.60" y1="508.60" x2="134.60" y2="648.30" stroke="#1f1f1f" stroke-width="1.10"/>
<line x1="134.60" y1="528.00" x2="134.60" y2="562.00" stroke="#1f1f1f" stroke-width="1.83"/>
<line x1="134.60" y1="511.40" x2="241.50" y2="511.40" stroke="#1f1f1f" stroke-width="0.98"/>
<path d="M134.60,511.40 L139.60,510.45 L139.60,512.35 Z" fill="#1f1f1f"/>
<path d="M241.50,511.40 L236.50,512.35 L236.50,510.45 Z" fill="#1f1f1f"/>
<text transform="translate(188.00,509.30)" text-anchor="middle" style='font-family:"Liberation Sans", "Noto Sans CJK SC", sans-serif;font-size:8.0px;font-weight:normal;fill:#333'>48.5</text>
<line x1="134.60" y1="521.80" x2="215.00" y2="521.80" stroke="#1f1f1f" stroke-width="0.98"/>
<path d="M134.60,521.80 L139.60,520.85 L139.60,522.75 Z" fill="#1f1f1f"/>
<path d="M215.00,521.80 L210.00,522.75 L210.00,520.85 Z" fill="#1f1f1f"/>
<text transform="translate(174.60,519.80)" text-anchor="middle" style='font-family:"Liberation Sans", "Noto Sans CJK SC", sans-serif;font-size:8.0px;font-weight:normal;fill:#333'>35.5</text>
<line x1="241.50" y1="508.60" x2="241.50" y2="630.00" stroke="#1f1f1f" stroke-width="0.98"/>
<line x1="215.00" y1="519.00" x2="215.00" y2="632.00" stroke="#1f1f1f" stroke-width="0.98"/>
<line x1="123.00" y1="533.90" x2="134.60" y2="533.90" stroke="#1f1f1f" stroke-width="0.98"/>
<path d="M134.60,533.90 L129.60,534.80 L129.60,533.00 Z" fill="#1f1f1f"/>
<line x1="145.30" y1="533.90" x2="171.40" y2="533.90" stroke="#1f1f1f" stroke-width="0.98"/>
<path d="M145.30,533.90 L150.30,533.00 L150.30,534.80 Z" fill="#1f1f1f"/>
<text transform="translate(163.50,532.00)" text-anchor="middle" style='font-family:"Liberation Sans", "Noto Sans CJK SC", sans-serif;font-size:8.0px;font-weight:normal;fill:#333'>4,6</text>
<line x1="123.00" y1="545.00" x2="134.60" y2="545.00" stroke="#1f1f1f" stroke-width="0.98"/>
<path d="M134.60,545.00 L129.60,545.90 L129.60,544.10 Z" fill="#1f1f1f"/>
<line x1="142.50" y1="545.00" x2="167.60" y2="545.00" stroke="#1f1f1f" stroke-width="0.98"/>
<path d="M142.50,545.00 L147.50,544.10 L147.50,545.90 Z" fill="#1f1f1f"/>
<text transform="translate(160.50,543.20)" text-anchor="middle" style='font-family:"Liberation Sans", "Noto Sans CJK SC", sans-serif;font-size:8.0px;font-weight:normal;fill:#333'>3,4</text>
<line x1="145.30" y1="531.00" x2="145.30" y2="633.00" stroke="#1f1f1f" stroke-width="0.98"/>
<line x1="142.50" y1="542.40" x2="142.50" y2="636.00" stroke="#1f1f1f" stroke-width="0.98"/>
<line x1="112.00" y1="566.30" x2="143.20" y2="573.80" stroke="#1f1f1f" stroke-width="0.98"/>
<line x1="112.00" y1="573.80" x2="143.20" y2="573.80" stroke="#1f1f1f" stroke-width="0.98"/>
<path d="M114.48,585.99 A31.20,31.20 0 0 1 117.64,555.90" stroke="#1f1f1f" stroke-width="0.98" fill="none" stroke-linejoin="round"/>
<path d="M112.60,566.60 L112.50,562.01 L114.27,562.32 Z" fill="#1f1f1f"/>
<path d="M111.70,573.60 L112.83,578.05 L111.04,578.14 Z" fill="#1f1f1f"/>
<text transform="translate(108.50,568.80) rotate(-90)" text-anchor="middle" style='font-family:"Liberation Sans", "Noto Sans CJK SC", sans-serif;font-size:8.0px;font-weight:normal;fill:#333'>15°</text>
<line x1="143.00" y1="572.20" x2="321.70" y2="572.20" stroke="#1f1f1f" stroke-width="1.10"/>
<line x1="143.00" y1="574.60" x2="309.30" y2="574.60" stroke="#1f1f1f" stroke-width="1.10"/>
<line x1="145.30" y1="577.20" x2="295.40" y2="577.20" stroke="#1f1f1f" stroke-width="1.10"/>
<line x1="215.00" y1="579.70" x2="282.50" y2="579.70" stroke="#1f1f1f" stroke-width="1.10"/>
<line x1="143.00" y1="637.80" x2="321.70" y2="637.80" stroke="#1f1f1f" stroke-width="1.10"/>
<line x1="143.00" y1="635.40" x2="309.30" y2="635.40" stroke="#1f1f1f" stroke-width="1.10"/>
<line x1="145.30" y1="632.80" x2="295.40" y2="632.80" stroke="#1f1f1f" stroke-width="1.10"/>
<line x1="215.00" y1="630.30" x2="282.50" y2="630.30" stroke="#1f1f1f" stroke-width="1.10"/>
<path d="M134.60,641.00 L142.50,636.00" stroke="#1f1f1f" stroke-width="1.10" fill="none" stroke-linejoin="round"/>
<line x1="212.00" y1="577.20" x2="212.00" y2="632.80" stroke="#1f1f1f" stroke-width="1.10"/>
<line x1="238.80" y1="579.70" x2="238.80" y2="630.30" stroke="#1f1f1f" stroke-width="1.10"/>
<line x1="215.00" y1="577.20" x2="215.00" y2="579.70" stroke="#1f1f1f" stroke-width="1.10"/>
<line x1="143.20" y1="573.80" x2="167.00" y2="598.50" stroke="#1f1f1f" stroke-width="1.10"/>
<path d="M177.17,578.57 A34.30,34.30 0 0 1 167.03,598.47" stroke="#1f1f1f" stroke-width="0.98" fill="none" stroke-linejoin="round"/>
<path d="M177.20,578.20 L177.70,582.76 L175.91,582.60 Z" fill="#1f1f1f"/>
<path d="M167.20,598.30 L170.07,594.72 L171.23,596.10 Z" fill="#1f1f1f"/>
<text transform="translate(171.50,587.50) rotate(-64)" text-anchor="middle" style='font-family:"Liberation Sans", "Noto Sans CJK SC", sans-serif;font-size:8.0px;font-weight:normal;fill:#333'>45°</text>
<line x1="241.50" y1="582.00" x2="251.00" y2="624.00" stroke="#1f1f1f" stroke-width="1.10"/>
<line x1="251.00" y1="586.00" x2="241.50" y2="628.00" stroke="#1f1f1f" stroke-width="1.10"/>
<path d="M251,585.5 A19.2,19.2 0 0 1 251,623.5" stroke="#1f1f1f" stroke-width="1.10" fill="none" stroke-linejoin="round"/>
<text transform="translate(263.80,605.00) rotate(-90)" text-anchor="middle" style='font-family:"Liberation Sans", "Noto Sans CJK SC", sans-serif;font-size:8.0px;font-weight:normal;fill:#333'>135°</text>
<line x1="279.70" y1="579.70" x2="279.70" y2="630.30" stroke="#1f1f1f" stroke-width="0.98"/>
<path d="M279.70,579.70 L280.60,584.70 L278.80,584.70 Z" fill="#1f1f1f"/>
<path d="M279.70,630.30 L278.80,625.30 L280.60,625.30 Z" fill="#1f1f1f"/>
<line x1="293.20" y1="577.20" x2="293.20" y2="632.80" stroke="#1f1f1f" stroke-width="0.98"/>
<path d="M293.20,577.20 L294.10,582.20 L292.30,582.20 Z" fill="#1f1f1f"/>
<path d="M293.20,632.80 L292.30,627.80 L294.10,627.80 Z" fill="#1f1f1f"/>
<line x1="306.00" y1="574.60" x2="306.00" y2="635.40" stroke="#1f1f1f" stroke-width="0.98"/>
<path d="M306.00,574.60 L306.90,579.60 L305.10,579.60 Z" fill="#1f1f1f"/>
<path d="M306.00,635.40 L305.10,630.40 L306.90,630.40 Z" fill="#1f1f1f"/>
<line x1="318.90" y1="572.20" x2="318.90" y2="637.80" stroke="#1f1f1f" stroke-width="0.98"/>
<path d="M318.90,572.20 L319.80,577.20 L318.00,577.20 Z" fill="#1f1f1f"/>
<path d="M318.90,637.80 L318.00,632.80 L319.80,632.80 Z" fill="#1f1f1f"/>
<text transform="translate(278.00,605.00) rotate(-90)" text-anchor="middle" style='font-family:"Liberation Sans", "Noto Sans CJK SC", sans-serif;font-size:8.0px;font-weight:normal;fill:#333'>Ø21.8</text>
<text transform="translate(291.30,605.00) rotate(-90)" text-anchor="middle" style='font-family:"Liberation Sans", "Noto Sans CJK SC", sans-serif;font-size:8.0px;font-weight:normal;fill:#333'>Ø24.3</text>
<text transform="translate(304.10,605.00) rotate(-90)" text-anchor="middle" style='font-family:"Liberation Sans", "Noto Sans CJK SC", sans-serif;font-size:8.0px;font-weight:normal;fill:#333'>Ø26.9</text>
<text transform="translate(317.00,605.00) rotate(-90)" text-anchor="middle" style='font-family:"Liberation Sans", "Noto Sans CJK SC", sans-serif;font-size:8.0px;font-weight:normal;fill:#333'>Ø28.7</text>
<path d="M212.90,631.00 L227.90,658.90 L240.70,658.90" stroke="#1f1f1f" stroke-width="1.10" fill="none" stroke-linejoin="round"/>
<text transform="translate(233.80,657.30)" text-anchor="middle" style='font-family:"Liberation Sans", "Noto Sans CJK SC", sans-serif;font-size:8.0px;font-weight:normal;fill:#333'>1C</text>
<path d="M239.60,629.00 L254.60,658.90 L268.60,658.90" stroke="#1f1f1f" stroke-width="1.10" fill="none" stroke-linejoin="round"/>
<text transform="translate(261.00,657.30)" text-anchor="middle" style='font-family:"Liberation Sans", "Noto Sans CJK SC", sans-serif;font-size:8.0px;font-weight:normal;fill:#333'>1C</text>
<line x1="38.60" y1="796.80" x2="236.00" y2="796.80" stroke="#1f1f1f" stroke-width="0.98" stroke-dasharray="15 3.5 4 3.5"/>
<path d="M51.4,770.4 Q43.5,783 54,796.8 Q43,810 52,823.6" stroke="#1f1f1f" stroke-width="1.10" fill="none" stroke-linejoin="round"/>
<path d="M54,796.8 Q61.5,810 52,823.6" stroke="#1f1f1f" stroke-width="1.10" fill="none" stroke-linejoin="round"/>
<path d="M51.4,770.4 H71.4 Q85,769.5 88.1,753.9" stroke="#1f1f1f" stroke-width="1.10" fill="none" stroke-linejoin="round"/>
<path d="M52,823.6 H71.4 Q85,824.5 88.1,840" stroke="#1f1f1f" stroke-width="1.10" fill="none" stroke-linejoin="round"/>
<line x1="63.90" y1="753.90" x2="116.90" y2="753.90" stroke="#1f1f1f" stroke-width="1.10"/>
<line x1="63.90" y1="840.00" x2="117.50" y2="840.00" stroke="#1f1f1f" stroke-width="1.10"/>
<line x1="88.10" y1="753.90" x2="88.10" y2="840.00" stroke="#1f1f1f" stroke-width="1.10"/>
<line x1="71.60" y1="770.40" x2="71.60" y2="823.60" stroke="#1f1f1f" stroke-width="0.98"/>
<line x1="66.80" y1="753.90" x2="66.80" y2="840.00" stroke="#1f1f1f" stroke-width="0.98"/>
<path d="M66.80,753.90 L67.70,758.90 L65.90,758.90 Z" fill="#1f1f1f"/>
<path d="M66.80,840.00 L65.90,835.00 L67.70,835.00 Z" fill="#1f1f1f"/>
<text transform="translate(64.80,796.80) rotate(-90)" text-anchor="middle" style='font-family:"Liberation Sans", "Noto Sans CJK SC", sans-serif;font-size:8.0px;font-weight:normal;fill:#333'>Ø38</text>
<line x1="116.90" y1="700.30" x2="116.90" y2="840.00" stroke="#1f1f1f" stroke-width="1.10"/>
<line x1="116.90" y1="724.00" x2="116.90" y2="754.00" stroke="#1f1f1f" stroke-width="1.83"/>
<line x1="117.30" y1="800.00" x2="117.30" y2="840.00" stroke="#1f1f1f" stroke-width="1.83"/>
<line x1="116.90" y1="703.00" x2="227.90" y2="703.00" stroke="#1f1f1f" stroke-width="0.98"/>
<path d="M116.90,703.00 L121.90,702.05 L121.90,703.95 Z" fill="#1f1f1f"/>
<path d="M227.90,703.00 L222.90,703.95 L222.90,702.05 Z" fill="#1f1f1f"/>
<text transform="translate(172.40,701.30)" text-anchor="middle" style='font-family:"Liberation Sans", "Noto Sans CJK SC", sans-serif;font-size:8.0px;font-weight:normal;fill:#333'>49</text>
<line x1="116.90" y1="714.30" x2="198.60" y2="714.30" stroke="#1f1f1f" stroke-width="0.98"/>
<path d="M116.90,714.30 L121.90,713.35 L121.90,715.25 Z" fill="#1f1f1f"/>
<path d="M198.60,714.30 L193.60,715.25 L193.60,713.35 Z" fill="#1f1f1f"/>
<text transform="translate(157.40,712.50)" text-anchor="middle" style='font-family:"Liberation Sans", "Noto Sans CJK SC", sans-serif;font-size:8.0px;font-weight:normal;fill:#333'>36</text>
<line x1="227.90" y1="700.00" x2="227.90" y2="774.00" stroke="#1f1f1f" stroke-width="0.98"/>
<line x1="198.60" y1="712.00" x2="198.60" y2="823.00" stroke="#1f1f1f" stroke-width="0.98"/>
<line x1="105.30" y1="725.50" x2="116.90" y2="725.50" stroke="#1f1f1f" stroke-width="0.98"/>
<path d="M116.90,725.50 L111.90,726.40 L111.90,724.60 Z" fill="#1f1f1f"/>
<line x1="128.00" y1="725.50" x2="158.30" y2="725.50" stroke="#1f1f1f" stroke-width="0.98"/>
<path d="M128.00,725.50 L133.00,724.60 L133.00,726.40 Z" fill="#1f1f1f"/>
<text transform="translate(149.00,723.70)" text-anchor="middle" style='font-family:"Liberation Sans", "Noto Sans CJK SC", sans-serif;font-size:8.0px;font-weight:normal;fill:#333'>4.88</text>
<line x1="105.30" y1="736.70" x2="116.90" y2="736.70" stroke="#1f1f1f" stroke-width="0.98"/>
<path d="M116.90,736.70 L111.90,737.60 L111.90,735.80 Z" fill="#1f1f1f"/>
<line x1="125.20" y1="736.70" x2="151.00" y2="736.70" stroke="#1f1f1f" stroke-width="0.98"/>
<path d="M125.20,736.70 L130.20,735.80 L130.20,737.60 Z" fill="#1f1f1f"/>
<text transform="translate(143.90,734.80)" text-anchor="middle" style='font-family:"Liberation Sans", "Noto Sans CJK SC", sans-serif;font-size:8.0px;font-weight:normal;fill:#333'>3.7</text>
<line x1="128.00" y1="723.20" x2="128.00" y2="826.00" stroke="#1f1f1f" stroke-width="0.98"/>
<line x1="125.20" y1="734.40" x2="125.20" y2="829.00" stroke="#1f1f1f" stroke-width="0.98"/>
<line x1="98.20" y1="759.60" x2="126.00" y2="766.00" stroke="#1f1f1f" stroke-width="0.98"/>
<line x1="98.20" y1="766.00" x2="126.00" y2="766.00" stroke="#1f1f1f" stroke-width="0.98"/>
<path d="M101.06,777.10 A27.30,27.30 0 0 1 104.20,749.57" stroke="#1f1f1f" stroke-width="0.98" fill="none" stroke-linejoin="round"/>
<path d="M98.90,759.80 L98.80,755.21 L100.57,755.52 Z" fill="#1f1f1f"/>
<path d="M98.50,765.80 L99.63,770.25 L97.84,770.34 Z" fill="#1f1f1f"/>
<text transform="translate(96.50,762.00) rotate(-90)" text-anchor="middle" style='font-family:"Liberation Sans", "Noto Sans CJK SC", sans-serif;font-size:8.0px;font-weight:normal;fill:#333'>15°</text>
<line x1="126.00" y1="764.40" x2="312.10" y2="764.40" stroke="#1f1f1f" stroke-width="1.10"/>
<line x1="126.00" y1="766.80" x2="296.70" y2="766.80" stroke="#1f1f1f" stroke-width="1.10"/>
<line x1="128.00" y1="769.00" x2="274.60" y2="769.00" stroke="#1f1f1f" stroke-width="1.10"/>
<line x1="198.60" y1="771.80" x2="252.10" y2="771.80" stroke="#1f1f1f" stroke-width="1.10"/>
<line x1="126.00" y1="830.20" x2="312.10" y2="830.20" stroke="#1f1f1f" stroke-width="1.10"/>
<line x1="126.00" y1="827.60" x2="296.70" y2="827.60" stroke="#1f1f1f" stroke-width="1.10"/>
<line x1="128.00" y1="825.00" x2="274.60" y2="825.00" stroke="#1f1f1f" stroke-width="1.10"/>
<line x1="198.60" y1="822.40" x2="252.10" y2="822.40" stroke="#1f1f1f" stroke-width="1.10"/>
<line x1="200.60" y1="771.80" x2="200.60" y2="822.40" stroke="#1f1f1f" stroke-width="1.10"/>
<line x1="228.00" y1="772.50" x2="228.00" y2="821.50" stroke="#1f1f1f" stroke-width="1.83"/>
<path d="M225.40,775.00 L225.40,819.00" stroke="#1f1f1f" stroke-width="0.98" fill="none" stroke-linejoin="round"/>
<path d="M225.40,775.00 L228.00,772.50" stroke="#1f1f1f" stroke-width="0.98" fill="none" stroke-linejoin="round"/>
<path d="M225.40,819.00 L228.00,821.50" stroke="#1f1f1f" stroke-width="0.98" fill="none" stroke-linejoin="round"/>
<circle cx="221.00" cy="796.80" r="1.60" stroke="#1f1f1f" stroke-width="0.98" fill="none"/>
<line x1="218.50" y1="794.80" x2="218.50" y2="798.80" stroke="#1f1f1f" stroke-width="0.98"/>
<line x1="223.50" y1="794.30" x2="223.50" y2="799.30" stroke="#1f1f1f" stroke-width="0.98"/>
<line x1="126.00" y1="766.00" x2="152.30" y2="792.50" stroke="#1f1f1f" stroke-width="1.10"/>
<path d="M161.11,769.69 A35.30,35.30 0 0 1 150.52,791.39" stroke="#1f1f1f" stroke-width="0.98" fill="none" stroke-linejoin="round"/>
<path d="M161.20,769.80 L161.78,774.35 L159.99,774.23 Z" fill="#1f1f1f"/>
<path d="M152.50,792.30 L155.37,788.72 L156.53,790.10 Z" fill="#1f1f1f"/>
<text transform="translate(157.50,781.00) rotate(-60)" text-anchor="middle" style='font-family:"Liberation Sans", "Noto Sans CJK SC", sans-serif;font-size:8.0px;font-weight:normal;fill:#333'>45°</text>
<line x1="211.40" y1="746.40" x2="227.90" y2="774.30" stroke="#1f1f1f" stroke-width="1.10"/>
<path d="M211.46,746.38 A32.40,32.40 0 0 1 227.90,741.90" stroke="#1f1f1f" stroke-width="0.98" fill="none" stroke-linejoin="round"/>
<text transform="translate(218.30,742.30) rotate(-16)" text-anchor="middle" style='font-family:"Liberation Sans", "Noto Sans CJK SC", sans-serif;font-size:8.0px;font-weight:normal;fill:#333'>29°</text>
<line x1="250.60" y1="771.80" x2="250.60" y2="822.40" stroke="#1f1f1f" stroke-width="0.98"/>
<path d="M250.60,771.80 L251.50,776.80 L249.70,776.80 Z" fill="#1f1f1f"/>
<path d="M250.60,822.40 L249.70,817.40 L251.50,817.40 Z" fill="#1f1f1f"/>
<line x1="272.50" y1="769.00" x2="272.50" y2="825.00" stroke="#1f1f1f" stroke-width="0.98"/>
<path d="M272.50,769.00 L273.40,774.00 L271.60,774.00 Z" fill="#1f1f1f"/>
<path d="M272.50,825.00 L271.60,820.00 L273.40,820.00 Z" fill="#1f1f1f"/>
<line x1="294.40" y1="766.80" x2="294.40" y2="827.60" stroke="#1f1f1f" stroke-width="0.98"/>
<path d="M294.40,766.80 L295.30,771.80 L293.50,771.80 Z" fill="#1f1f1f"/>
<path d="M294.40,827.60 L293.50,822.60 L295.30,822.60 Z" fill="#1f1f1f"/>
<line x1="309.40" y1="764.40" x2="309.40" y2="830.20" stroke="#1f1f1f" stroke-width="0.98"/>
<path d="M309.40,764.40 L310.30,769.40 L308.50,769.40 Z" fill="#1f1f1f"/>
<path d="M309.40,830.20 L308.50,825.20 L310.30,825.20 Z" fill="#1f1f1f"/>
<text transform="translate(248.60,796.80) rotate(-90)" text-anchor="middle" style='font-family:"Liberation Sans", "Noto Sans CJK SC", sans-serif;font-size:8.0px;font-weight:normal;fill:#333'>Ø22.29</text>
<text transform="translate(258.60,796.80) rotate(-90)" text-anchor="middle" style='font-family:"Liberation Sans", "Noto Sans CJK SC", sans-serif;font-size:8.0px;font-weight:normal;fill:#333'>Ø22.26</text>
<text transform="translate(270.50,796.80) rotate(-90)" text-anchor="middle" style='font-family:"Liberation Sans", "Noto Sans CJK SC", sans-serif;font-size:8.0px;font-weight:normal;fill:#333'>Ø24.85</text>
<text transform="translate(280.50,796.80) rotate(-90)" text-anchor="middle" style='font-family:"Liberation Sans", "Noto Sans CJK SC", sans-serif;font-size:8.0px;font-weight:normal;fill:#333'>Ø24.79</text>
<text transform="translate(292.40,796.80) rotate(-90)" text-anchor="middle" style='font-family:"Liberation Sans", "Noto Sans CJK SC", sans-serif;font-size:8.0px;font-weight:normal;fill:#333'>Ø27.5</text>
<text transform="translate(307.50,796.80) rotate(-90)" text-anchor="middle" style='font-family:"Liberation Sans", "Noto Sans CJK SC", sans-serif;font-size:8.0px;font-weight:normal;fill:#333'>Ø29.2±0.03</text>
<circle cx="116.80" cy="829.70" r="11.10" stroke="#1f1f1f" stroke-width="1.10" fill="none" stroke-dasharray="5 2.5"/>
<circle cx="198.60" cy="822.50" r="12.20" stroke="#1f1f1f" stroke-width="1.10" fill="none" stroke-dasharray="5 2.5"/>
<line x1="120.00" y1="841.00" x2="125.40" y2="855.40" stroke="#1f1f1f" stroke-width="1.10"/>
<line x1="205.50" y1="833.50" x2="219.00" y2="857.90" stroke="#1f1f1f" stroke-width="1.10"/>
<circle cx="131.10" cy="876.40" r="21.00" stroke="#1f1f1f" stroke-width="1.10" fill="none" stroke-dasharray="9 4"/>
<path d="M130.70,855.40 L130.70,889.30 L114.60,889.30" stroke="#1f1f1f" stroke-width="1.10" fill="none" stroke-linejoin="round"/>
<path d="M130.7,877.5 L146.5,871.2 Q149.5,868 147.2,862.5" stroke="#1f1f1f" stroke-width="1.10" fill="none" stroke-linejoin="round"/>
<path d="M147.2,862.5 Q151.5,866 150.8,871.5 L146.5,871.2" stroke="#1f1f1f" stroke-width="0.98" fill="none" stroke-linejoin="round"/>
<line x1="130.70" y1="877.50" x2="160.70" y2="907.50" stroke="#1f1f1f" stroke-width="1.10"/>
<text transform="translate(154.00,895.50) rotate(45)" text-anchor="middle" style='font-family:"Liberation Sans", "Noto Sans CJK SC", sans-serif;font-size:8.0px;font-weight:normal;fill:#333'>R0.3</text>
<circle cx="230.70" cy="876.50" r="21.20" stroke="#1f1f1f" stroke-width="1.10" fill="none" stroke-dasharray="9 4"/>
<line x1="229.00" y1="855.50" x2="229.00" y2="882.30" stroke="#1f1f1f" stroke-width="1.10"/>
<line x1="230.90" y1="855.50" x2="230.90" y2="876.00" stroke="#1f1f1f" stroke-width="1.10"/>
<path d="M230.9,876 Q232,874.6 234.5,874.6 H252" stroke="#1f1f1f" stroke-width="1.10" fill="none" stroke-linejoin="round"/>
<path d="M211.40,884.60 L225.40,884.60 L229.00,882.30" stroke="#1f1f1f" stroke-width="1.10" fill="none" stroke-linejoin="round"/>
<line x1="192.00" y1="859.00" x2="265.00" y2="899.60" stroke="#1f1f1f" stroke-width="1.10"/>
<text transform="translate(203.50,859.50) rotate(29)" text-anchor="middle" style='font-family:"Liberation Sans", "Noto Sans CJK SC", sans-serif;font-size:8.0px;font-weight:normal;fill:#333'>R0.7</text>
<text transform="translate(258.00,890.50) rotate(29)" text-anchor="middle" style='font-family:"Liberation Sans", "Noto Sans CJK SC", sans-serif;font-size:8.0px;font-weight:normal;fill:#333'>R1.5</text>
<line x1="446.50" y1="509.70" x2="446.50" y2="665.60" stroke="#1c1c1c" stroke-width="1.32"/>
<line x1="483.35" y1="510.30" x2="483.35" y2="665.00" stroke="#1c1c1c" stroke-width="1.32"/>
<line x1="520.20" y1="510.30" x2="520.20" y2="665.00" stroke="#1c1c1c" stroke-width="1.32"/>
<line x1="557.05" y1="510.30" x2="557.05" y2="665.00" stroke="#1c1c1c" stroke-width="1.32"/>
<line x1="593.90" y1="510.30" x2="593.90" y2="622.00" stroke="#1c1c1c" stroke-width="1.32"/>
<line x1="593.90" y1="634.00" x2="593.90" y2="650.00" stroke="#1c1c1c" stroke-width="1.32"/>
<line x1="593.90" y1="663.00" x2="593.90" y2="665.00" stroke="#1c1c1c" stroke-width="1.32"/>
<line x1="630.75" y1="510.30" x2="630.75" y2="650.00" stroke="#1c1c1c" stroke-width="1.32"/>
<line x1="630.75" y1="663.00" x2="630.75" y2="665.00" stroke="#1c1c1c" stroke-width="1.32"/>
<line x1="667.60" y1="509.70" x2="667.60" y2="665.60" stroke="#1c1c1c" stroke-width="1.32"/>
<line x1="446.50" y1="665.00" x2="667.60" y2="665.00" stroke="#1c1c1c" stroke-width="1.32"/>
<line x1="446.50" y1="642.90" x2="560.50" y2="642.90" stroke="#1c1c1c" stroke-width="1.32"/>
<line x1="575.00" y1="642.90" x2="667.60" y2="642.90" stroke="#1c1c1c" stroke-width="1.32"/>
<line x1="446.50" y1="620.80" x2="594.00" y2="620.80" stroke="#1c1c1c" stroke-width="1.32"/>
<line x1="614.00" y1="620.80" x2="667.60" y2="620.80" stroke="#1c1c1c" stroke-width="1.32"/>
<line x1="446.50" y1="598.70" x2="667.60" y2="598.70" stroke="#1c1c1c" stroke-width="1.32"/>
<line x1="446.50" y1="576.60" x2="667.60" y2="576.60" stroke="#1c1c1c" stroke-width="1.32"/>
<line x1="446.50" y1="554.50" x2="667.60" y2="554.50" stroke="#1c1c1c" stroke-width="1.32"/>
<line x1="446.50" y1="532.40" x2="667.60" y2="532.40" stroke="#1c1c1c" stroke-width="1.32"/>
<line x1="446.50" y1="510.30" x2="667.60" y2="510.30" stroke="#1c1c1c" stroke-width="1.32"/>
<path d="M446.50,665.00 L447.69,661.03 L448.85,657.07 L450.00,653.10 L451.12,649.13 L452.23,645.17 L453.31,641.20 L454.37,637.23 L455.41,633.27 L456.44,629.30 L457.44,625.33 L458.42,621.37 L459.38,617.40 L460.32,613.43 L461.25,609.47 L462.15,605.50 L463.03,601.53 L463.89,597.57 L464.74,593.60 L465.56,589.63 L466.37,585.67 L467.15,581.70 L467.92,577.73 L468.67,573.77 L469.39,569.80 L470.10,565.83 L470.79,561.87 L471.47,557.90 L472.12,553.93 L472.75,549.97 L473.37,546.00 L473.97,542.03 L474.55,538.07 L475.11,534.10 L475.65,530.13 L476.18,526.17 L476.68,522.20 L477.17,518.23 L477.64,514.27 L478.10,510.30" stroke="#111" stroke-width="1.37" fill="none" stroke-linejoin="round"/>
<path d="M446.50,665.00 L450.17,661.03 L453.75,657.07 L457.24,653.10 L460.65,649.13 L463.98,645.17 L467.22,641.20 L470.39,637.23 L473.48,633.27 L476.48,629.30 L479.42,625.33 L482.28,621.37 L485.06,617.40 L487.77,613.43 L490.41,609.47 L492.99,605.50 L495.49,601.53 L497.93,597.57 L500.30,593.60 L502.61,589.63 L504.86,585.67 L507.05,581.70 L509.17,577.73 L511.24,573.77 L513.25,569.80 L515.20,565.83 L517.10,561.87 L518.95,557.90 L520.75,553.93 L522.49,549.97 L524.19,546.00 L525.84,542.03 L527.44,538.07 L529.00,534.10 L530.52,530.13 L531.99,526.17 L533.42,522.20 L534.81,518.23 L536.17,514.27 L537.49,510.30" stroke="#111" stroke-width="1.37" fill="none" stroke-linejoin="round"/>
<path d="M446.50,665.00 L452.11,661.03 L457.63,657.07 L463.07,653.10 L468.43,649.13 L473.70,645.17 L478.88,641.20 L483.97,637.23 L488.97,633.27 L493.87,629.30 L498.67,625.33 L503.38,621.37 L507.99,617.40 L512.49,613.43 L516.89,609.47 L521.18,605.50 L525.37,601.53 L529.45,597.57 L533.41,593.60 L537.26,589.63 L541.00,585.67 L544.62,581.70 L548.11,577.73 L551.49,573.77 L554.75,569.80 L557.88,565.83 L560.88,561.87 L563.76,557.90 L566.51,553.93 L569.12,549.97 L571.60,546.00 L573.94,542.03 L576.15,538.07 L578.21,534.10 L580.13,530.13 L581.92,526.17 L583.55,522.20 L585.04,518.23 L586.38,514.27 L587.56,510.30" stroke="#111" stroke-width="1.37" fill="none" stroke-linejoin="round"/>
<path d="M446.50,665.00 L454.21,661.03 L461.78,657.07 L469.21,653.10 L476.50,649.13 L483.65,645.17 L490.65,641.20 L497.51,637.23 L504.23,633.27 L510.79,629.30 L517.21,625.33 L523.48,621.37 L529.60,617.40 L535.57,613.43 L541.38,609.47 L547.03,605.50 L552.53,601.53 L557.88,597.57 L563.06,593.60 L568.09,589.63 L572.95,585.67 L577.65,581.70 L582.18,577.73 L586.56,573.77 L590.76,569.80 L594.80,565.83 L598.66,561.87 L602.36,557.90 L605.88,553.93 L609.24,549.97 L612.41,546.00 L615.42,542.03 L618.24,538.07 L620.89,534.10 L623.36,530.13 L625.64,526.17 L627.75,522.20 L629.67,518.23 L631.41,514.27 L632.96,510.30" stroke="#111" stroke-width="1.37" fill="none" stroke-linejoin="round"/>
<path d="M446.50,665.00 L456.37,661.03 L465.97,657.07 L475.30,653.10 L484.36,649.13 L493.17,645.17 L501.72,641.20 L510.02,637.23 L518.08,633.27 L525.89,629.30 L533.46,625.33 L540.80,621.37 L547.91,617.40 L554.79,613.43 L561.45,609.47 L567.89,605.50 L574.11,601.53 L580.13,597.57 L585.93,593.60 L591.54,589.63 L596.95,585.67 L602.16,581.70 L607.19,577.73 L612.02,573.77 L616.68,569.80 L621.16,565.83 L625.46,561.87 L629.59,557.90 L633.56,553.93 L637.37,549.97 L641.02,546.00 L644.51,542.03 L647.86,538.07 L651.06,534.10 L654.12,530.13 L657.04,526.17 L659.83,522.20 L662.49,518.23 L665.03,514.27 L667.44,510.30" stroke="#111" stroke-width="1.37" fill="none" stroke-linejoin="round"/>
<path d="M446.50,665.00 L456.41,661.63 L466.06,658.27 L475.45,654.90 L484.60,651.54 L493.50,648.17 L502.15,644.80 L510.56,641.44 L518.73,638.07 L526.66,634.71 L534.36,631.34 L541.82,627.97 L549.06,624.61 L556.07,621.24 L562.85,617.88 L569.42,614.51 L575.76,611.14 L581.89,607.78 L587.81,604.41 L593.51,601.05 L599.01,597.68 L604.30,594.31 L609.39,590.95 L614.28,587.58 L618.98,584.22 L623.47,580.85 L627.78,577.48 L631.90,574.12 L635.83,570.75 L639.58,567.39 L643.15,564.02 L646.54,560.65 L649.75,557.29 L652.79,553.92 L655.66,550.56 L658.36,547.19 L660.90,543.82 L663.28,540.46 L665.50,537.09 L667.56,533.73" stroke="#111" stroke-width="1.37" fill="none" stroke-linejoin="round"/>
<path d="M446.50,665.00 L458.43,662.11 L469.86,659.22 L480.81,656.33 L491.29,653.44 L501.32,650.55 L510.90,647.66 L520.05,644.77 L528.79,641.88 L537.12,638.99 L545.07,636.10 L552.64,633.21 L559.85,630.32 L566.72,627.43 L573.24,624.54 L579.45,621.65 L585.35,618.76 L590.96,615.87 L596.29,612.98 L601.35,610.09 L606.16,607.20 L610.74,604.31 L615.08,601.42 L619.21,598.53 L623.15,595.64 L626.90,592.75 L630.48,589.86 L633.90,586.97 L637.18,584.08 L640.32,581.19 L643.35,578.30 L646.28,575.41 L649.12,572.52 L651.88,569.63 L654.58,566.74 L657.23,563.85 L659.84,560.96 L662.43,558.07 L665.02,555.18 L667.60,552.29" stroke="#111" stroke-width="1.37" fill="none" stroke-linejoin="round"/>
<text transform="translate(440.30,647.10) scale(0.74,1)" text-anchor="end" style='font-family:"Liberation Serif", "Noto Serif CJK SC", serif;font-size:12.2px;font-weight:normal;fill:#3a3a3a'>2</text>
<text transform="translate(440.30,625.00) scale(0.74,1)" text-anchor="end" style='font-family:"Liberation Serif", "Noto Serif CJK SC", serif;font-size:12.2px;font-weight:normal;fill:#3a3a3a'>4</text>
<text transform="translate(440.30,602.90) scale(0.74,1)" text-anchor="end" style='font-family:"Liberation Serif", "Noto Serif CJK SC", serif;font-size:12.2px;font-weight:normal;fill:#3a3a3a'>6</text>
<text transform="translate(440.30,580.80) scale(0.74,1)" text-anchor="end" style='font-family:"Liberation Serif", "Noto Serif CJK SC", serif;font-size:12.2px;font-weight:normal;fill:#3a3a3a'>8</text>
<text transform="translate(440.30,558.70) scale(0.74,1)" text-anchor="end" style='font-family:"Liberation Serif", "Noto Serif CJK SC", serif;font-size:12.2px;font-weight:normal;fill:#3a3a3a'>10</text>
<text transform="translate(440.30,536.60) scale(0.74,1)" text-anchor="end" style='font-family:"Liberation Serif", "Noto Serif CJK SC", serif;font-size:12.2px;font-weight:normal;fill:#3a3a3a'>12</text>
<text transform="translate(440.30,514.50) scale(0.74,1)" text-anchor="end" style='font-family:"Liberation Serif", "Noto Serif CJK SC", serif;font-size:12.2px;font-weight:normal;fill:#3a3a3a'>14</text>
<text transform="translate(440.30,682.80) scale(0.74,1)" text-anchor="end" style='font-family:"Liberation Serif", "Noto Serif CJK SC", serif;font-size:12.2px;font-weight:normal;fill:#3a3a3a'>0</text>
<text transform="translate(483.35,679.60) scale(0.74,1)" text-anchor="middle" textLength="13.51" lengthAdjust="spacing" style='font-family:"Liberation Serif", "Noto Serif CJK SC", serif;font-size:12.2px;font-weight:normal;fill:#3a3a3a'>25</text>
<text transform="translate(520.20,679.60) scale(0.74,1)" text-anchor="middle" textLength="13.51" lengthAdjust="spacing" style='font-family:"Liberation Serif", "Noto Serif CJK SC", serif;font-size:12.2px;font-weight:normal;fill:#3a3a3a'>50</text>
<text transform="translate(557.05,679.60) scale(0.74,1)" text-anchor="middle" textLength="13.51" lengthAdjust="spacing" style='font-family:"Liberation Serif", "Noto Serif CJK SC", serif;font-size:12.2px;font-weight:normal;fill:#3a3a3a'>75</text>
<text transform="translate(593.90,679.60) scale(0.74,1)" text-anchor="middle" textLength="20.27" lengthAdjust="spacing" style='font-family:"Liberation Serif", "Noto Serif CJK SC", serif;font-size:12.2px;font-weight:normal;fill:#3a3a3a'>100</text>
<text transform="translate(630.75,679.60) scale(0.74,1)" text-anchor="middle" textLength="20.27" lengthAdjust="spacing" style='font-family:"Liberation Serif", "Noto Serif CJK SC", serif;font-size:12.2px;font-weight:normal;fill:#3a3a3a'>125</text>
<text transform="translate(667.60,679.60) scale(0.74,1)" text-anchor="middle" textLength="20.27" lengthAdjust="spacing" style='font-family:"Liberation Serif", "Noto Serif CJK SC", serif;font-size:12.2px;font-weight:normal;fill:#3a3a3a'>150</text>
<text transform="translate(478.60,505.80) scale(0.74,1)" text-anchor="middle" style='font-family:"Liberation Serif", "Noto Serif CJK SC", serif;font-size:12.2px;font-weight:normal;fill:#3a3a3a'>1</text>
<text transform="translate(537.30,505.80) scale(0.74,1)" text-anchor="middle" style='font-family:"Liberation Serif", "Noto Serif CJK SC", serif;font-size:12.2px;font-weight:normal;fill:#3a3a3a'>2</text>
<text transform="translate(588.00,505.80) scale(0.74,1)" text-anchor="middle" style='font-family:"Liberation Serif", "Noto Serif CJK SC", serif;font-size:12.2px;font-weight:normal;fill:#3a3a3a'>3</text>
<text transform="translate(633.40,505.80) scale(0.74,1)" text-anchor="middle" style='font-family:"Liberation Serif", "Noto Serif CJK SC", serif;font-size:12.2px;font-weight:normal;fill:#3a3a3a'>4</text>
<text transform="translate(667.60,505.80) scale(0.74,1)" text-anchor="middle" style='font-family:"Liberation Serif", "Noto Serif CJK SC", serif;font-size:12.2px;font-weight:normal;fill:#3a3a3a'>5</text>
<text transform="translate(675.00,533.40) scale(0.74,1)" text-anchor="middle" style='font-family:"Liberation Serif", "Noto Serif CJK SC", serif;font-size:12.2px;font-weight:normal;fill:#3a3a3a'>6</text>
<text transform="translate(673.00,553.20) scale(0.74,1)" text-anchor="start" style='font-family:"Liberation Serif", "Noto Serif CJK SC", serif;font-size:12.2px;font-weight:normal;fill:#3a3a3a'>7</text>
<text transform="translate(677.60,549.50) scale(0.74,1)" text-anchor="start" style='font-family:"Liberation Serif", "Noto Serif CJK SC", serif;font-size:6.5px;font-weight:normal;fill:#3a3a3a'>1</text>
<text transform="translate(678.60,551.50)" text-anchor="start" style='font-family:"Liberation Serif", "Noto Serif CJK SC", serif;font-size:8.5px;font-weight:normal;fill:#3a3a3a'>⁄</text>
<text transform="translate(681.00,553.50) scale(0.74,1)" text-anchor="start" style='font-family:"Liberation Serif", "Noto Serif CJK SC", serif;font-size:6.5px;font-weight:normal;fill:#3a3a3a'>2</text>
<text transform="translate(373.30,531.50)" text-anchor="start" style='font-family:"Liberation Sans", "Noto Sans CJK SC", sans-serif;font-size:9.5px;font-weight:normal;fill:#333'>压力降 bar</text>
<text transform="translate(628.00,697.30)" text-anchor="start" style='font-family:"Liberation Sans", "Noto Sans CJK SC", sans-serif;font-size:9.5px;font-weight:normal;fill:#333'>流量 l/min</text>
<text transform="translate(562.60,641.60) rotate(-24.2) scale(0.8,1)" text-anchor="start" style='font-family:"Liberation Serif", "Noto Serif CJK SC", serif;font-size:11.3px;font-weight:normal;fill:#3a3a3a;letter-spacing:2.1px'>Fully Open</text>
<text transform="translate(584.00,661.00) scale(0.8,1)" text-anchor="start" style='font-family:"Liberation Serif", "Noto Serif CJK SC", serif;font-size:11.3px;font-weight:normal;fill:#3a3a3a;letter-spacing:2.0px'>32 cSt Oil 40℃</text>
</svg>
</body></html>
